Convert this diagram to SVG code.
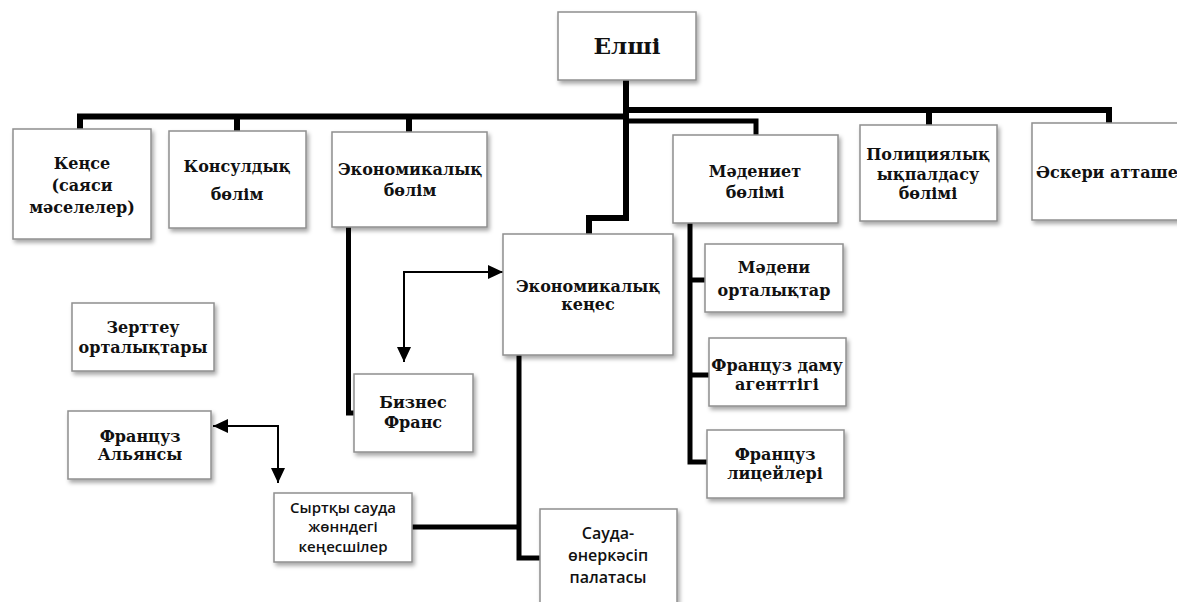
<svg xmlns="http://www.w3.org/2000/svg" width="1177" height="602" viewBox="0 0 1177 602">
<style>
.box{fill:#fff;stroke:#8f8f8f;stroke-width:1.5;filter:url(#sh)}
.t{font-family:"DejaVu Serif","Liberation Serif",serif;font-weight:bold;font-size:16px;fill:#111;text-anchor:middle}
.s{font-family:"Open Sans","Liberation Sans",sans-serif;font-weight:600;font-size:15px;fill:#111;text-anchor:middle}
.c{fill:none;stroke:#000;stroke-linejoin:miter}
.thick{stroke-width:6}
.med{stroke-width:5}
.thin{stroke-width:2}
</style>
<defs>
<filter id="sh" x="-10%" y="-10%" width="130%" height="130%">
<feDropShadow dx="2" dy="3" stdDeviation="2" flood-color="#000" flood-opacity="0.35"/>
</filter>
<marker id="ar" markerUnits="userSpaceOnUse" markerWidth="16" markerHeight="14" refX="15" refY="7" orient="auto-start-reverse">
<path d="M0,0 L15,7 L0,14 Z" fill="#000"/>
</marker>
</defs>
<rect width="1177" height="602" fill="#fff"/>
<g id="connectors">
<path class="c thick" d="M626,80 V218 H589 V234"/>
<path class="c thick" d="M80,129 V116.5 H626"/>
<path class="c thick" d="M237,131 V116.5"/>
<path class="c thick" d="M409,132 V116.5"/>
<path class="c thick" d="M626,110 H1109 V123"/>
<path class="c thick" d="M929,110 V125"/>
<path class="c med" d="M626,121 H756 V135"/>
<path class="c med" d="M348.5,227 V413 H354"/>
<path class="c med" d="M519,355 V558 H540"/>
<path class="c med" d="M412,527 H519"/>
<path class="c med" d="M690,223 V462 H707"/>
<path class="c med" d="M690,280 H705"/>
<path class="c med" d="M690,375 H709"/>
<path class="c thin" d="M503,272 H404 V362" marker-start="url(#ar)" marker-end="url(#ar)"/>
<path class="c thin" d="M213,426 H278 V483" marker-start="url(#ar)" marker-end="url(#ar)"/>
</g>
<g id="n-elshi"><rect class="box" x="558" y="12" width="138" height="68"/><text class="t" style="font-size:23px" x="627" y="54">Елші</text></g>
<g id="n-kense"><rect class="box" x="13" y="129" width="138" height="110"/><text class="t" x="82" y="169">Кеңсе</text><text class="t" x="82" y="191">(саяси</text><text class="t" x="82" y="213">мәселелер)</text></g>
<g id="n-konsul"><rect class="box" x="169" y="131" width="137" height="97"/><text class="t" x="237" y="172">Консулдық</text><text class="t" x="237" y="200">бөлім</text></g>
<g id="n-econ-bolim"><rect class="box" x="332" y="132" width="155" height="95"/><text class="t" x="410" y="175">Экономикалық</text><text class="t" x="410" y="196">бөлім</text></g>
<g id="n-madeniet"><rect class="box" x="673" y="135" width="165" height="88"/><text class="t" x="755" y="177">Мәдениет</text><text class="t" x="755" y="198">бөлімі</text></g>
<g id="n-police"><rect class="box" x="860" y="125" width="137" height="96"/><text class="t" x="928" y="160">Полициялық</text><text class="t" x="928" y="180">ықпалдасу</text><text class="t" x="928" y="199">бөлімі</text></g>
<g id="n-askeri"><rect class="box" x="1032" y="123" width="150" height="97"/><text class="t" x="1107" y="178">Әскери атташе</text></g>
<g id="n-econ-kenes"><rect class="box" x="503" y="234" width="170" height="121"/><text class="t" x="588" y="292">Экономикалық</text><text class="t" x="588" y="310">кеңес</text></g>
<g id="n-biznes"><rect class="box" x="354" y="374" width="119" height="78"/><text class="t" x="413" y="408">Бизнес</text><text class="t" x="413" y="428">Франс</text></g>
<g id="n-madeni-ort"><rect class="box" x="705" y="244" width="138" height="68"/><text class="t" x="774" y="273">Мәдени</text><text class="t" x="774" y="296">орталықтар</text></g>
<g id="n-damu"><rect class="box" x="709" y="338" width="137" height="68"/><text class="t" x="777" y="371">Француз даму</text><text class="t" x="777" y="390">агенттігі</text></g>
<g id="n-litsei"><rect class="box" x="707" y="430" width="137" height="68"/><text class="t" x="775" y="460">Француз</text><text class="t" x="775" y="479">лицейлері</text></g>
<g id="n-zertteu"><rect class="box" x="72" y="303" width="142" height="68"/><text class="t" x="143" y="333">Зерттеу</text><text class="t" x="143" y="353">орталықтары</text></g>
<g id="n-alliance"><rect class="box" x="68" y="411" width="143" height="68"/><text class="t" x="140" y="442">Француз</text><text class="t" x="140" y="460">Альянсы</text></g>
<g id="n-syrtky"><rect class="box" x="274" y="493" width="138" height="69"/><text class="s" x="343" y="513">Сыртқы сауда</text><text class="s" x="343" y="532">жөнндегі</text><text class="s" x="343" y="552">кеңесшілер</text></g>
<g id="n-sauda"><rect class="box" x="540" y="509" width="137" height="100"/><text class="s" style="font-size:16px" x="608" y="539">Сауда-</text><text class="s" style="font-size:16px" x="608" y="561">өнеркәсіп</text><text class="s" style="font-size:16px" x="608" y="583">палатасы</text></g>
</svg>
